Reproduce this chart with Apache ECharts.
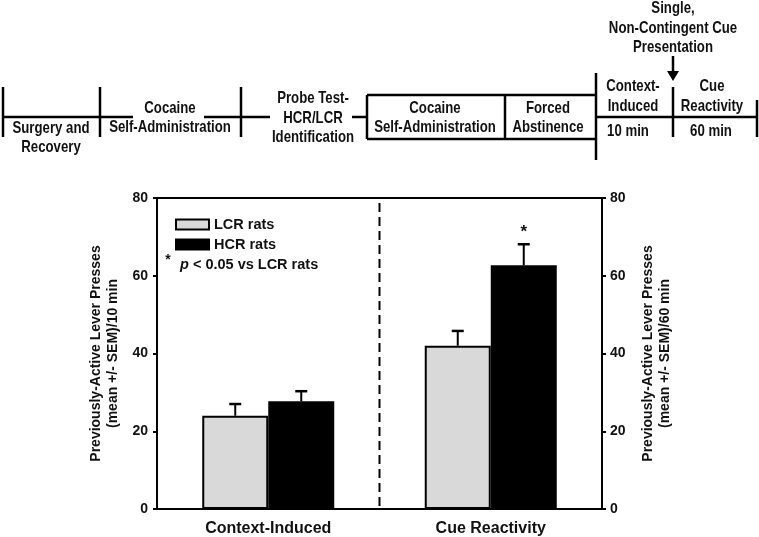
<!DOCTYPE html>
<html>
<head>
<meta charset="utf-8">
<script src="https://cdn.jsdelivr.net/npm/echarts@6/dist/echarts.min.js"></script>
<style>html,body{margin:0;padding:0;background:#fff}#c{width:759px;height:537px}</style>
</head>
<body>
<div id="c"></div>
<script>
const categories = ['Context-Induced', 'Cue Reactivity'];
const seriesNames = ['LCR rats', 'HCR rats'];
const lcrMeans = [24.0, 42.0];
const lcrSem = [3.0, 3.8];
const hcrMeans = [27.7, 62.7];
const hcrSem = [2.6, 5.4];
const hcrSig = ['', '*'];
const yTicks = [0, 20, 40, 60, 80];
const leftAxisName = 'Previously-Active Lever Presses\n(mean +/- SEM)/10 min';
const rightAxisName = 'Previously-Active Lever Presses\n(mean +/- SEM)/60 min';
const sigNote = '< 0.05 vs LCR rats';

const FONT = '"Liberation Sans", Arial, sans-serif';
const BAR_W = 66;

function errData(means, sems, sig) {
  return means.map((m, i) => [i, m, sems[i], sig ? sig[i] : '']);
}
function errSeries(name, means, sems, sig, side) {
  return {
    type: 'custom',
    name: name + ' SEM',
    z: 5,
    encode: { x: 0, y: 1 },
    data: errData(means, sems, sig),
    renderItem: function (params, api) {
      const top = api.coord([api.value(0), api.value(1) + api.value(2)]);
      const base = api.coord([api.value(0), api.value(1)]);
      const x = top[0] + side * BAR_W / 2;
      const children = [
        { type: 'line', shape: { x1: x, y1: base[1], x2: x, y2: top[1] }, style: { stroke: '#000', lineWidth: 2 } },
        { type: 'line', shape: { x1: x - 6, y1: top[1], x2: x + 6, y2: top[1] }, style: { stroke: '#000', lineWidth: 2.5 } }
      ];
      const s = api.value(3);
      if (s) {
        children.push({ type: 'text', style: { text: s, x: x, y: top[1] - 12, textAlign: 'center', textVerticalAlign: 'middle', font: 'bold 17px ' + FONT, fill: '#111' } });
      }
      return { type: 'group', children: children };
    }
  };
}

const tlLines = [
  [3, 87, 3, 137], [3, 117, 133, 117], [100, 87, 100, 137],
  [204, 117, 270, 117], [241, 87, 241, 137], [352, 117, 367, 117],
  [367, 95, 367, 139], [367, 95, 596, 95], [367, 139, 596, 139], [505, 95, 505, 139],
  [596, 73, 596, 160], [596, 117, 757, 117], [673, 87, 673, 137], [757, 100, 757, 137],
  [673, 56, 673, 73]
];
const tlTexts = [
  ['Surgery and\nRecovery', 51, 138],
  ['Cocaine\nSelf-Administration', 170, 118],
  ['Probe Test-\nHCR/LCR\nIdentification', 313, 118],
  ['Cocaine\nSelf-Administration', 435, 118],
  ['Forced\nAbstinence', 548, 118],
  ['Context-\nInduced', 633, 96.5],
  ['10 min', 628, 131],
  ['Single,\nNon-Contingent Cue\nPresentation', 673, 28],
  ['Cue\nReactivity', 712, 96.5],
  ['60 min', 711, 131]
];

const graphics = [];
tlLines.forEach(l => graphics.push({ type: 'line', shape: { x1: l[0], y1: l[1], x2: l[2], y2: l[3] }, style: { stroke: '#000', lineWidth: 2.5 } }));
graphics.push({ type: 'polygon', shape: { points: [[667, 71], [679, 71], [673, 81]] }, style: { fill: '#000' } });
tlTexts.forEach(t => graphics.push({
  type: 'text', x: t[1], y: t[2], scaleX: 0.8,
  style: { text: t[0], x: 0, y: 0, textAlign: 'center', textVerticalAlign: 'middle', font: 'bold 16.5px ' + FONT, lineHeight: 19.5, fill: '#111' }
}));
graphics.push({ type: 'text', x: 168, y: 260, style: { text: '*', textAlign: 'center', textVerticalAlign: 'middle', font: 'bold 14px ' + FONT, fill: '#111' } });
graphics.push({ type: 'text', x: 180, y: 265, style: {
  text: '{i|p} ' + sigNote, textVerticalAlign: 'middle', font: 'bold 14.5px ' + FONT, fill: '#111',
  rich: { i: { fontStyle: 'italic', fontWeight: 'bold', fontSize: 14.5, fontFamily: FONT, fill: '#111' } }
} });

const yAxisCommon = {
  type: 'value', min: yTicks[0], max: yTicks[yTicks.length - 1], interval: yTicks[1] - yTicks[0],
  axisLine: { show: true, lineStyle: { color: '#000', width: 2 } },
  axisTick: { show: true, length: 4, lineStyle: { color: '#000', width: 2 } },
  splitLine: { show: false },
  nameLocation: 'middle', nameRotate: 90,
  nameTextStyle: { fontFamily: FONT, fontWeight: 'bold', fontSize: 14, color: '#111', lineHeight: 17 }
};

const chart = echarts.init(document.getElementById('c'), null, { renderer: 'canvas' });
chart.setOption({
  animation: false,
  backgroundColor: '#fff',
  textStyle: { fontFamily: FONT },
  grid: { left: 157, right: 157, top: 198, bottom: 28, show: true, borderColor: '#000', borderWidth: 2 },
  legend: {
    data: seriesNames, orient: 'vertical', left: 170, top: 212, itemWidth: 33, itemHeight: 10, itemGap: 5,
    icon: 'rect', textStyle: { fontFamily: FONT, fontWeight: 'bold', fontSize: 14.5, color: '#111' }
  },
  xAxis: {
    type: 'category', data: categories,
    axisLine: { lineStyle: { color: '#000', width: 2 } },
    axisTick: { show: false },
    axisLabel: { margin: 12, fontFamily: FONT, fontWeight: 'bold', fontSize: 16, color: '#111' }
  },
  yAxis: [
    Object.assign({}, yAxisCommon, { position: 'left', name: leftAxisName, nameGap: 33,
      axisLabel: { margin: 9, fontFamily: FONT, fontWeight: 'bold', fontSize: 14, color: '#111' } }),
    Object.assign({}, yAxisCommon, { position: 'right', name: rightAxisName, nameGap: 38,
      axisLabel: { margin: 8, fontFamily: FONT, fontWeight: 'bold', fontSize: 14, color: '#111' } })
  ],
  series: [
    { type: 'bar', name: seriesNames[0], data: lcrMeans, barWidth: BAR_W, barGap: '0%',
      itemStyle: { color: '#d9d9d9', borderColor: '#000', borderWidth: 2 } },
    { type: 'bar', name: seriesNames[1], data: hcrMeans, barWidth: BAR_W, barGap: '0%',
      itemStyle: { color: '#000', borderColor: '#000', borderWidth: 2 } },
    errSeries(seriesNames[0], lcrMeans, lcrSem, null, -1),
    errSeries(seriesNames[1], hcrMeans, hcrSem, hcrSig, 1)
  ],
  graphic: graphics
});

const p0 = chart.convertToPixel({ xAxisIndex: 0, yAxisIndex: 0 }, [0, yTicks[yTicks.length - 1]]);
const p1 = chart.convertToPixel({ xAxisIndex: 0, yAxisIndex: 0 }, [1, 0]);
const midX = (p0[0] + p1[0]) / 2;
graphics.push({ type: 'line', shape: { x1: midX, y1: p0[1] + 5, x2: midX, y2: p1[1] }, style: { stroke: '#000', lineWidth: 2, lineDash: [9, 5] } });
chart.setOption({ graphic: graphics });
</script>
</body>
</html>
